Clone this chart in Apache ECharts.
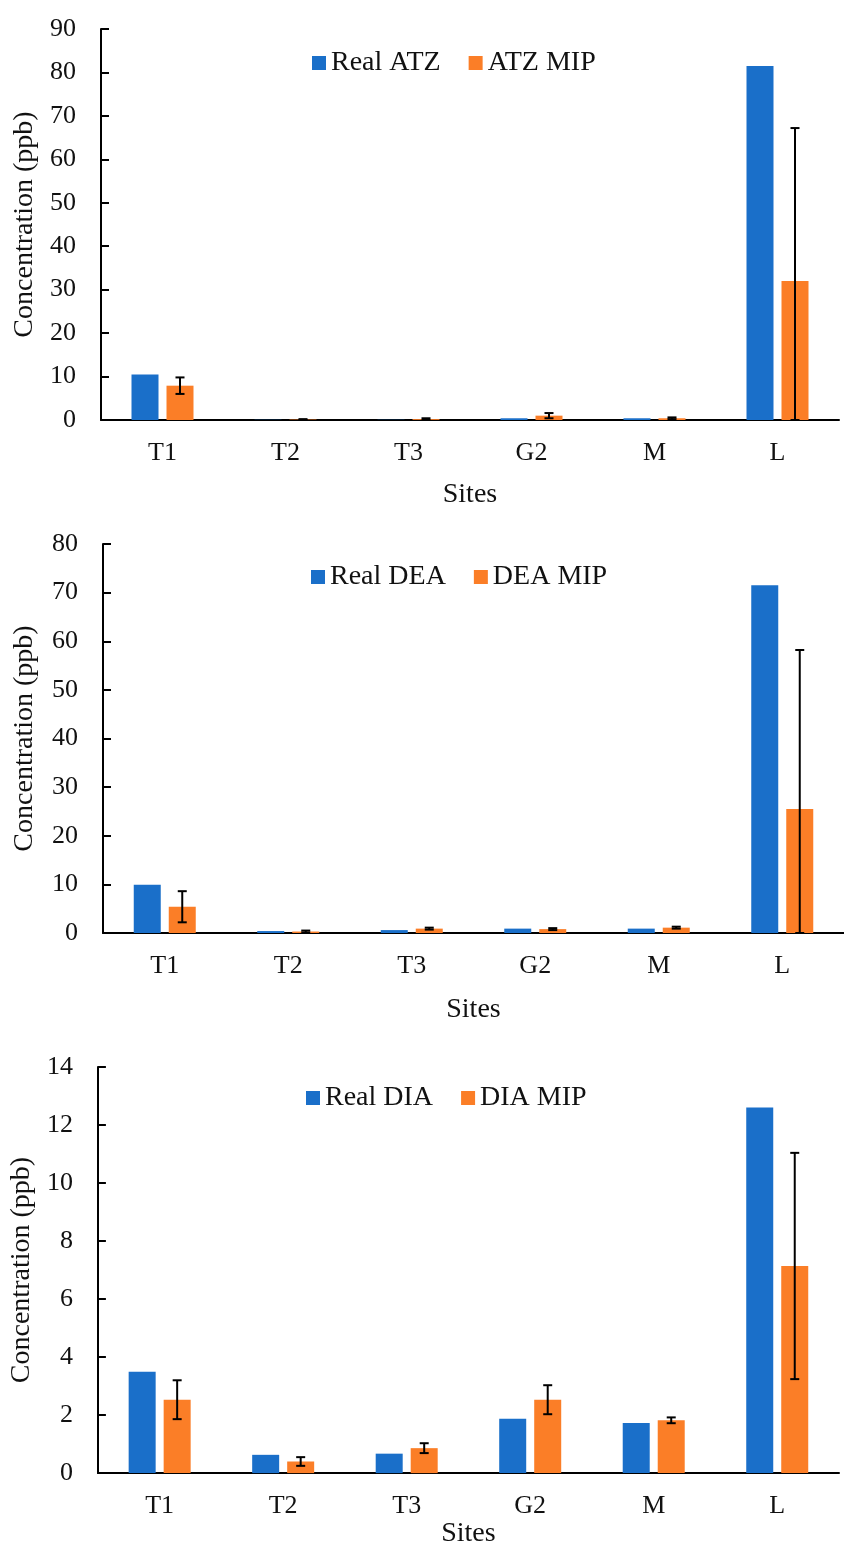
<!DOCTYPE html>
<html>
<head>
<meta charset="utf-8">
<style>
    html, body { margin: 0; padding: 0; background: #fff; }
    #main { width: 844px; height: 1549px; }
</style>
<script src="https://cdn.jsdelivr.net/npm/echarts@6/dist/echarts.min.js"></script>
</head>
<body>
<div id="main"></div>
<script>
    var categories = ['T1', 'T2', 'T3', 'G2', 'M', 'L'];

    // ATZ
    var realAtz = [10.5, 0.05, 0.05, 0.4, 0.4, 81.5];
    var atzMip  = [7.9, 0.1, 0.2, 1.0, 0.4, 32.0];
    var atzErr  = [1.9, 0.1, 0.2, 0.6, 0.2, 35.2];

    // DEA
    var realDea = [9.9, 0.4, 0.6, 0.9, 0.9, 71.5];
    var deaMip  = [5.4, 0.3, 0.9, 0.8, 1.1, 25.5];
    var deaErr  = [3.2, 0.2, 0.2, 0.2, 0.2, 32.7];

    // DIA
    var realDia = [3.49, 0.63, 0.67, 1.87, 1.73, 12.6];
    var diaMip  = [2.53, 0.4, 0.86, 2.53, 1.82, 7.14];
    var diaErr  = [0.67, 0.15, 0.17, 0.5, 0.1, 3.9];

    var blue = '#1a6fc9';
    var orange = '#fb7e27';
    var font = 'Liberation Serif';
    var barW = 27;
    var barGap = 8;

    var chart = echarts.init(document.getElementById('main'));

    function errBars(params, api) {
        var v = api.value(1), e = api.value(2);
        var hi = api.coord([api.value(0), v + e]);
        var lo = api.coord([api.value(0), Math.max(0, v - e)]);
        var cx = hi[0] + (barW + barGap) / 2;
        var st = { stroke: '#000', lineWidth: 2 };
        return {
            type: 'group',
            children: [
                { type: 'line', shape: { x1: cx, y1: hi[1], x2: cx, y2: lo[1] }, style: st },
                { type: 'line', shape: { x1: cx - 4.5, y1: hi[1], x2: cx + 4.5, y2: hi[1] }, style: st },
                { type: 'line', shape: { x1: cx - 4.5, y1: lo[1], x2: cx + 4.5, y2: lo[1] }, style: st }
            ]
        };
    }

    function toErr(vals, errs) {
        return vals.map(function (v, i) { return [i, v, errs[i]]; });
    }

    function xAx(idx, gap) {
        return {
            type: 'category', gridIndex: idx, data: categories,
            name: 'Sites', nameLocation: 'middle', nameGap: gap,
            nameTextStyle: { fontFamily: font, fontSize: 28, color: '#111' },
            axisLine: { lineStyle: { color: '#000', width: 2 } },
            axisTick: { show: false },
            axisLabel: { fontFamily: font, fontSize: 26, color: '#111', margin: 20 }
        };
    }

    function yAx(idx, max, step, gap) {
        return {
            type: 'value', gridIndex: idx, min: 0, max: max, interval: step,
            name: 'Concentration (ppb)', nameLocation: 'middle', nameGap: gap,
            nameTextStyle: { fontFamily: font, fontSize: 28, color: '#111' },
            axisLine: { show: true, lineStyle: { color: '#000', width: 2 } },
            axisTick: { show: true, inside: true, length: 8, lineStyle: { color: '#000', width: 2 } },
            splitLine: { show: false },
            axisLabel: { fontFamily: font, fontSize: 26, color: '#111', margin: 25 }
        };
    }

    function legend(top, left, names) {
        return {
            top: top, left: left, data: names, icon: 'rect',
            itemWidth: 14, itemHeight: 14, itemGap: 28,
            textStyle: { fontFamily: font, fontSize: 28, color: '#111', padding: [0, 0, 0, 0] }
        };
    }

    function bar(name, idx, data, color) {
        return {
            name: name, type: 'bar', xAxisIndex: idx, yAxisIndex: idx,
            data: data, barWidth: barW, barGap: (barGap / barW * 100) + '%',
            itemStyle: { color: color }
        };
    }

    var option = {
        animation: false,
        grid: [
            { left: 101, right: 5, top: 29, bottom: 1549 - 420 },
            { left: 103, right: -8, top: 544, bottom: 1549 - 933 },
            { left: 87, right: 5, top: 1067, bottom: 1549 - 1479 }
        ],
        legend: [
            legend(44, 307, ['Real ATZ', 'ATZ MIP']),
            legend(558, 306, ['Real DEA', 'DEA MIP']),
            legend(1079, 301, ['Real DIA', 'DIA MIP'])
        ],
        xAxis: [xAx(0, 61), xAx(1, 63), xAx(2, 42)],
        yAxis: [yAx(0, 90, 10, 60), yAx(1, 80, 10, 64), yAx(2, 14, 2, 49)],
        series: [
            bar('Real ATZ', 0, realAtz, blue),
            bar('ATZ MIP', 0, atzMip, orange),
            { name: 'atzErr', type: 'custom', xAxisIndex: 0, yAxisIndex: 0, renderItem: errBars, data: toErr(atzMip, atzErr), z: 10 },
            bar('Real DEA', 1, realDea, blue),
            bar('DEA MIP', 1, deaMip, orange),
            { name: 'deaErr', type: 'custom', xAxisIndex: 1, yAxisIndex: 1, renderItem: errBars, data: toErr(deaMip, deaErr), z: 10 },
            bar('Real DIA', 2, realDia, blue),
            bar('DIA MIP', 2, diaMip, orange),
            { name: 'diaErr', type: 'custom', xAxisIndex: 2, yAxisIndex: 2, renderItem: errBars, data: toErr(diaMip, diaErr), z: 10 }
        ]
    };
    chart.setOption(option);
</script>
</body>
</html>
